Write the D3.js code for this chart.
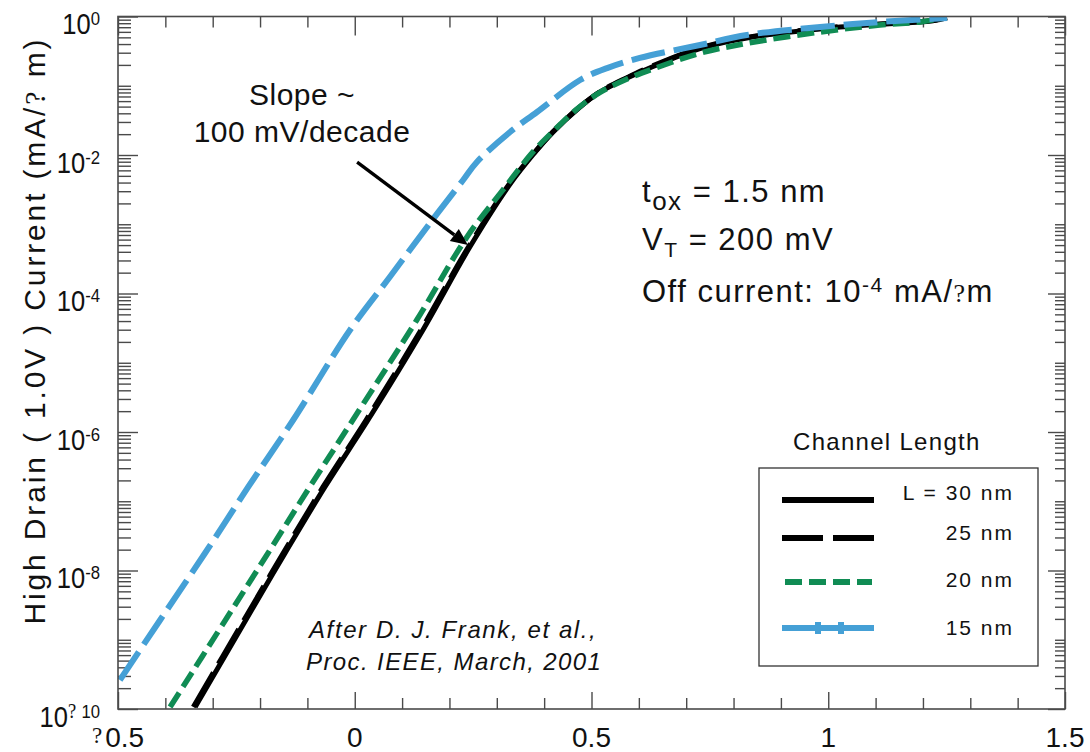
<!DOCTYPE html>
<html>
<head>
<meta charset="utf-8">
<script src="https://cdnjs.cloudflare.com/ajax/libs/d3/7.8.5/d3.min.js"></script>
<style>
  html, body { margin: 0; padding: 0; background: #fff; }
  svg { display: block; font-family: "Liberation Sans", Arial, sans-serif; }
</style>
</head>
<body>
<svg id="chart" width="1090" height="752"></svg>
<script>
// Gate voltage (V) and high-drain current (mA/um) per channel length
const vg30 = [-0.337, -0.230, -0.147, -0.063, 0.028, 0.144, 0.243, 0.328, 0.376, 0.419, 0.469, 0.518, 0.575, 0.630, 0.729, 0.828, 1.025, 1.221, 1.251];
const id30 = [1.07e-10, 1.93e-9, 1.79e-8, 1.61e-7, 1.49e-6, 2.97e-5, 4.69e-4, 3.8e-3, 1.0e-2, 2.15e-2, 4.5e-2, 8.13e-2, 0.129, 0.190, 0.345, 0.490, 0.705, 0.870, 0.955];

const vg25 = [-0.341, -0.234, -0.151, -0.067, 0.024, 0.140, 0.240, 0.326, 0.375, 0.418, 0.468, 0.518, 0.575, 0.630, 0.729, 0.828, 1.025, 1.221, 1.251];
const id25 = [1.07e-10, 1.93e-9, 1.79e-8, 1.61e-7, 1.49e-6, 2.97e-5, 4.69e-4, 3.8e-3, 1.0e-2, 2.15e-2, 4.5e-2, 8.2e-2, 0.131, 0.195, 0.352, 0.500, 0.715, 0.875, 0.960];

const vg20 = [-0.390, -0.273, -0.183, -0.095, -0.004, 0.131, 0.237, 0.313, 0.376, 0.419, 0.469, 0.518, 0.575, 0.630, 0.729, 0.828, 0.983, 1.109, 1.194, 1.242];
const id20 = [1.07e-10, 1.93e-9, 1.79e-8, 1.61e-7, 1.49e-6, 4.14e-5, 6.55e-4, 3.13e-3, 1.1e-2, 2.2e-2, 4.6e-2, 8.0e-2, 0.125, 0.175, 0.295, 0.410, 0.597, 0.753, 0.834, 0.951];

const vg15 = [-0.496, -0.411, -0.316, -0.225, -0.130, -0.010, 0.074, 0.159, 0.229, 0.258, 0.328, 0.385, 0.476, 0.533, 0.602, 0.729, 0.828, 0.983, 1.109, 1.251];
const id15 = [2.62e-10, 1.93e-9, 1.79e-8, 1.61e-7, 1.49e-6, 2.97e-5, 1.73e-4, 1.04e-3, 4.36e-3, 7.92e-3, 2.15e-2, 4.18e-2, 0.121, 0.180, 0.252, 0.387, 0.541, 0.705, 0.834, 0.951];

const seriesNames = ["L = 30 nm", "25 nm", "20 nm", "15 nm"];
const xTickValues = [-0.5, 0, 0.5, 1, 1.5];
const xTickLabels = ["?0.5", "0", "0.5", "1", "1.5"];
const yTickDecades = [0, -2, -4, -6, -8, -10];
const yTickExpLabels = ["0", "-2", "-4", "-6", "-8", "? 10"];

// Slope annotation arrow: tail and head in data units
const arrowFrom = [0.005, 7.9e-3];
const arrowTo = [0.239, 5.0e-4];

const svg = d3.select("#chart");
const plot = { left: 118, right: 1065, top: 16.5, bottom: 709 };

const x = d3.scaleLinear().domain([-0.5, 1.5]).range([plot.left, plot.right]);
const y = d3.scaleLog().domain([1e-10, 1]).range([plot.bottom, plot.top]);

const axisColor = "#4a4a4a";
const blue = "#45a0d6", green = "#108c54";
const serif = "'Liberation Serif', 'DejaVu Serif', serif";

// ---- ticks (inward on all four sides) ----
const xMinor = d3.range(-5, 16).map(i => i / 10).filter(v => !xTickValues.some(t => Math.abs(t - v) < 1e-9));
const yMajor = yTickDecades.map(e => Math.pow(10, e));
const yMinor = [];
for (let e = -10; e < 0; e++) {
  for (let k = 1; k <= 9; k++) {
    if (k === 1 && e % 2 === 0) continue;
    yMinor.push(k * Math.pow(10, e));
  }
}

function drawAxis(axisGen, tx, ty) {
  const g = svg.append("g").attr("transform", `translate(${tx},${ty})`).call(axisGen);
  g.select(".domain").remove();
  g.selectAll(".tick line").attr("stroke", axisColor).attr("stroke-width", 1.4);
  g.selectAll(".tick text").remove();
}
drawAxis(d3.axisBottom(x).tickValues(xMinor).tickSize(-11).tickFormat(""), 0, plot.bottom);
drawAxis(d3.axisBottom(x).tickValues(xTickValues).tickSize(-17).tickFormat(""), 0, plot.bottom);
drawAxis(d3.axisTop(x).tickValues(xMinor).tickSize(-11).tickFormat(""), 0, plot.top);
drawAxis(d3.axisTop(x).tickValues(xTickValues).tickSize(-19).tickFormat(""), 0, plot.top);
drawAxis(d3.axisLeft(y).tickValues(yMinor).tickSize(-13).tickFormat(""), plot.left, 0);
drawAxis(d3.axisLeft(y).tickValues(yMajor).tickSize(-20).tickFormat(""), plot.left, 0);
drawAxis(d3.axisRight(y).tickValues(yMinor).tickSize(-10).tickFormat(""), plot.right, 0);
drawAxis(d3.axisRight(y).tickValues(yMajor).tickSize(-17).tickFormat(""), plot.right, 0);

// ---- curves ----
svg.append("clipPath").attr("id", "plotClip").append("rect")
  .attr("x", plot.left).attr("y", plot.top)
  .attr("width", plot.right - plot.left).attr("height", plot.bottom - plot.top);

const line = d3.line().x(d => x(d[0])).y(d => y(d[1])).curve(d3.curveCatmullRom.alpha(0.5));
const curves = svg.append("g").attr("clip-path", "url(#plotClip)");
const series = [
  { v: vg30, i: id30, color: "#000", width: 5, dash: null },
  { v: vg25, i: id25, color: "#000", width: 5, dash: "40,10" },
  { v: vg20, i: id20, color: green, width: 5.5, dash: "17,7" },
  { v: vg15, i: id15, color: blue, width: 6, dash: "34,9" }
];
series.forEach(s => {
  curves.append("path")
    .datum(d3.zip(s.v, s.i))
    .attr("d", line)
    .attr("fill", "none")
    .attr("stroke", s.color)
    .attr("stroke-width", s.width)
    .attr("stroke-dasharray", s.dash)
    .attr("stroke-linejoin", "round");
});

// ---- frame ----
svg.append("rect")
  .attr("x", plot.left).attr("y", plot.top)
  .attr("width", plot.right - plot.left).attr("height", plot.bottom - plot.top)
  .attr("fill", "none").attr("stroke", axisColor).attr("stroke-width", 1.6);

// ---- x tick labels ----
xTickValues.forEach((v, k) => {
  const lab = xTickLabels[k];
  const t = svg.append("text")
    .attr("x", x(v)).attr("y", 747)
    .attr("text-anchor", "middle")
    .attr("font-size", 28).attr("fill", "#111");
  if (lab.startsWith("?")) {
    t.append("tspan").attr("font-family", serif).attr("font-size", 23).attr("dy", -4).text("?");
    t.append("tspan").attr("dx", 3).attr("dy", 4).text(lab.slice(1));
  } else {
    t.text(lab);
  }
});

// ---- y tick labels ----
yTickDecades.forEach((e, k) => {
  const t = svg.append("text")
    .attr("transform", `translate(100,${y(Math.pow(10, e)) + 17.5}) scale(0.88,1)`)
    .attr("text-anchor", "end")
    .attr("font-size", 29).attr("fill", "#111");
  t.append("tspan").text("10");
  const ex = yTickExpLabels[k];
  if (ex.startsWith("?")) {
    t.append("tspan").attr("font-family", serif).attr("font-size", 21).attr("dy", -9).text("?");
    t.append("tspan").attr("font-size", 19).attr("dx", 6).text(ex.slice(1).trim());
  } else {
    t.append("tspan").attr("font-size", 19).attr("dy", -9).text(ex);
  }
});

// ---- y axis title ----
const yt = svg.append("text")
  .attr("transform", "translate(45,332) rotate(-90)")
  .attr("text-anchor", "middle")
  .attr("font-size", 30).attr("fill", "#111")
  .attr("textLength", 585).attr("lengthAdjust", "spacing");
yt.append("tspan").text("High Drain ( 1.0V ) Current (mA/");
yt.append("tspan").attr("font-family", serif).text("?");
yt.append("tspan").text(" m)");

// ---- slope annotation ----
svg.append("text").attr("x", 302).attr("y", 105).attr("text-anchor", "middle")
  .attr("font-size", 30).attr("letter-spacing", 0.5).attr("fill", "#111").text("Slope ~");
svg.append("text").attr("x", 302).attr("y", 142).attr("text-anchor", "middle")
  .attr("font-size", 30).attr("letter-spacing", 0.5).attr("fill", "#111").text("100 mV/decade");

const ax0 = x(arrowFrom[0]), ay0 = y(arrowFrom[1]);
const ax1 = x(arrowTo[0]), ay1 = y(arrowTo[1]);
const ang = Math.atan2(ay1 - ay0, ax1 - ax0);
const headLen = 17, headHalf = 7.5;
const bx = ax1 - headLen * Math.cos(ang), by = ay1 - headLen * Math.sin(ang);
svg.append("line")
  .attr("x1", ax0).attr("y1", ay0).attr("x2", bx).attr("y2", by)
  .attr("stroke", "#000").attr("stroke-width", 3.3);
svg.append("path")
  .attr("d", `M${ax1},${ay1}L${bx + headHalf * Math.sin(ang)},${by - headHalf * Math.cos(ang)}L${bx - headHalf * Math.sin(ang)},${by + headHalf * Math.cos(ang)}Z`)
  .attr("fill", "#000");

// ---- device parameters ----
const info = svg.append("g").attr("fill", "#111").attr("font-size", 31).attr("letter-spacing", 1.5);
const t1 = info.append("text").attr("x", 642).attr("y", 202);
t1.append("tspan").text("t");
t1.append("tspan").attr("font-size", 26).attr("dy", 8).text("ox");
t1.append("tspan").attr("dy", -8).text(" = 1.5 nm");
const t2 = info.append("text").attr("x", 642).attr("y", 250);
t2.append("tspan").text("V");
t2.append("tspan").attr("font-size", 21).attr("dy", 7).text("T");
t2.append("tspan").attr("dy", -7).text(" = 200 mV");
const t3 = info.append("text").attr("x", 642).attr("y", 302);
t3.append("tspan").text("Off current: 10");
t3.append("tspan").attr("font-size", 21).attr("dy", -10).text("-4");
t3.append("tspan").attr("dy", 10).text(" mA/");
t3.append("tspan").attr("font-family", serif).attr("font-size", 26).text("?");
t3.append("tspan").text("m");

// ---- citation ----
svg.append("text").attr("x", 309).attr("y", 638)
  .attr("font-size", 24).attr("font-style", "italic").attr("letter-spacing", 1.6).attr("fill", "#111")
  .text("After D. J. Frank, et al.,");
svg.append("text").attr("x", 306).attr("y", 670)
  .attr("font-size", 24).attr("font-style", "italic").attr("letter-spacing", 1.4).attr("fill", "#111")
  .text("Proc. IEEE, March, 2001");

// ---- legend ----
svg.append("text").attr("x", 793).attr("y", 450)
  .attr("font-size", 24).attr("letter-spacing", 1.3).attr("fill", "#111").text("Channel Length");
svg.append("rect").attr("x", 759).attr("y", 468).attr("width", 279).attr("height", 198)
  .attr("fill", "#fff").attr("stroke", "#333").attr("stroke-width", 1.3);

const legendRowY = [500, 538, 582, 628];
const legendTextDy = [0, 2, 5, 7];
const legendStyles = [
  { color: "#000", width: 6, dash: null, x0: 782, x1: 874 },
  { color: "#000", width: 6, dash: "41,10", x0: 782, x1: 877 },
  { color: green, width: 6, dash: "17,7", x0: 785, x1: 872 },
  { color: blue, width: 6, dash: null, x0: 782, x1: 874 }
];
seriesNames.forEach((name, k) => {
  const st = legendStyles[k];
  const ry = legendRowY[k];
  svg.append("line").attr("x1", st.x0).attr("x2", st.x1).attr("y1", ry).attr("y2", ry)
    .attr("stroke", st.color).attr("stroke-width", st.width).attr("stroke-dasharray", st.dash);
  if (k === 3) {
    [818, 841].forEach(mx => {
      svg.append("rect").attr("x", mx - 3).attr("y", ry - 6).attr("width", 6).attr("height", 12).attr("fill", blue);
    });
  }
  svg.append("text").attr("x", 1014).attr("y", ry + legendTextDy[k])
    .attr("text-anchor", "end").attr("font-size", 21).attr("letter-spacing", 2).attr("fill", "#111")
    .text(name);
});
</script>
</body>
</html>
